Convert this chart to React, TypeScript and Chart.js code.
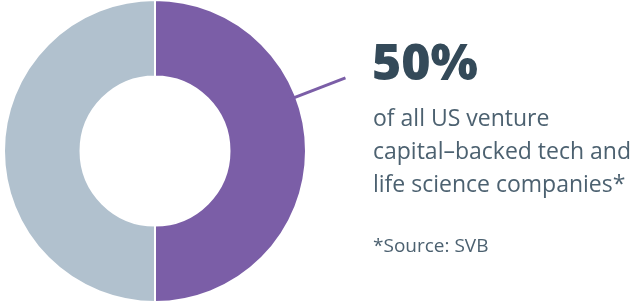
import React, { useEffect, useRef } from "react";
import { Chart, registerables } from "chart.js";

Chart.register(...registerables);

const labels = ["US venture capital–backed tech and life science companies", "Other"];
const values = [50, 50];
const colors = ["#7B5EA7", "#B1C1CE"];
const headline = "50%";
const bodyLines = ["of all US venture", "capital–backed tech and", "life science companies*"];
const sourceNote = "*Source: SVB";

const leaderPlugin = {
  id: "leader",
  afterDraw(chart: any) {
    const meta = chart.getDatasetMeta(0);
    const arc = meta.data[0];
    if (!arc) return;
    const { x, y, outerRadius } = arc.getProps(["x", "y", "outerRadius"], true);
    const ang = -21 * Math.PI / 180;
    const ctx = chart.ctx;
    ctx.save();
    ctx.strokeStyle = colors[0];
    ctx.lineWidth = 3;
    ctx.beginPath();
    ctx.moveTo(x + Math.cos(ang) * (outerRadius - 6), y + Math.sin(ang) * (outerRadius - 6));
    ctx.lineTo(x + Math.cos(ang) * (outerRadius + 53), y + Math.sin(ang) * (outerRadius + 53));
    ctx.stroke();
    ctx.restore();
  },
};

export default function App() {
  const ref = useRef<HTMLCanvasElement>(null);
  useEffect(() => {
    if (!ref.current) return;
    const chart = new Chart(ref.current, {
      type: "doughnut",
      data: {
        labels,
        datasets: [
          {
            data: values,
            backgroundColor: colors,
            borderColor: "#ffffff",
            borderWidth: 2,
            radius: 151,
            cutout: 74,
          } as any,
        ],
      },
      options: {
        responsive: false,
        animation: false,
        layout: { padding: { left: 0, top: 0, bottom: 0, right: 323 } },
        plugins: { legend: { display: false }, tooltip: { enabled: false } },
      },
      plugins: [leaderPlugin],
    });
    return () => chart.destroy();
  }, []);

  const bodyStyle: React.CSSProperties = {
    position: "absolute",
    left: 373,
    fontFamily: "'Open Sans', sans-serif",
    fontStretch: "95%",
    fontSize: 23,
    lineHeight: "33px",
    color: "#4C6170",
    whiteSpace: "nowrap",
  };

  return (
    <div style={{ position: "absolute", left: 0, top: 0, width: 633, height: 302, background: "#fff", overflow: "hidden" }}>
      <canvas ref={ref} width={633} height={302} style={{ position: "absolute", left: 0, top: 0 }} />
      <div
        style={{
          position: "absolute",
          left: 372,
          top: 31,
          fontFamily: "'Open Sans', sans-serif",
          fontStretch: "100%",
          fontWeight: 800,
          fontSize: 50,
          lineHeight: "60px",
          color: "#344A59",
          whiteSpace: "nowrap",
        }}
      >
        {headline}
      </div>
      <div style={{ ...bodyStyle, top: 101 }}>
        {bodyLines.map((l, i) => (
          <div key={i}>{l}</div>
        ))}
      </div>
      <div style={{ ...bodyStyle, top: 232, fontSize: 19, lineHeight: "26px" }}>{sourceNote}</div>
    </div>
  );
}
